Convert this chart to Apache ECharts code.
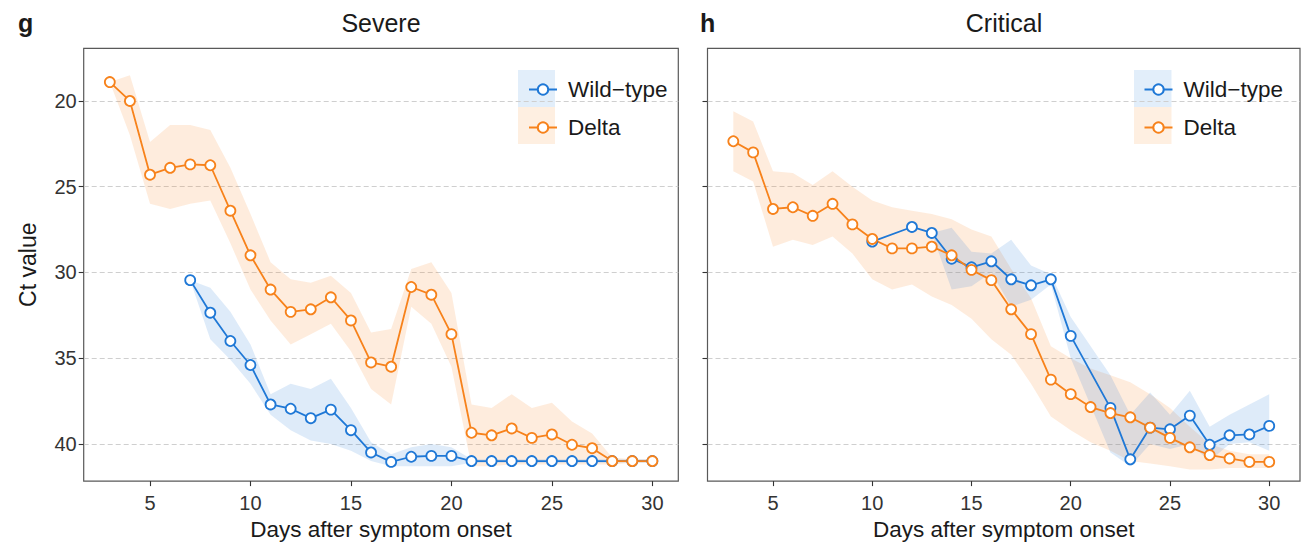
<!DOCTYPE html>
<html>
<head>
<meta charset="utf-8">
<script src="https://cdn.jsdelivr.net/npm/echarts@6/dist/echarts.min.js"></script>
<style>
html,body{margin:0;padding:0;background:#fff;}
#chart{width:1309px;height:546px;}
</style>
</head>
<body>
<div id="chart"></div>
<script>
// ---------- DATA ----------
const yTicks = [20, 25, 30, 35, 40];
const xTicks = [5, 10, 15, 20, 25, 30];

// Severe panel (g)
const severeDeltaDays = [3,4,5,6,7,8,9,10,11,12,13,14,15,16,17,18,19,20,21,22,23,24,25,26,27,28,29,30];
const severeDelta     = [18.9,20.0,24.3,23.9,23.7,23.75,26.4,29.0,31.0,32.3,32.15,31.45,32.8,35.25,35.5,30.85,31.3,33.6,39.35,39.5,39.1,39.65,39.45,40.05,40.25,41.0,41.0,41.0];
const severeDeltaLo   = [18.9,18.5,22.4,21.4,21.4,21.7,23.9,26.6,29.4,30.4,30.6,30.2,31.2,33.5,33.3,29.8,29.4,31.2,37.7,37.9,37.1,37.9,37.6,38.7,39.4,40.8,40.9,40.9];
const severeDeltaHi   = [18.9,22.0,26.0,26.3,26.0,25.8,28.3,31.0,32.8,34.2,33.6,33.0,34.6,36.8,37.7,32.0,33.0,35.5,41.3,41.3,41.2,41.2,41.2,41.2,41.2,41.2,41.1,41.1];

const severeWildDays = [7,8,9,10,11,12,13,14,15,16,17,18,19,20,21,22,23,24,25,26,27,28,29,30];
const severeWild     = [30.45,32.35,34.0,35.4,37.7,37.95,38.5,38.0,39.2,40.5,41.05,40.75,40.7,40.7,41.0,41.0,41.0,41.0,41.0,41.0,41.0,41.0,41.0,41.0];
const severeWildLo   = [30.45,30.9,32.3,34.2,37.1,36.5,36.8,36.2,37.9,39.9,40.6,40.2,40.0,40.2,40.9,40.9,40.9,40.9,40.9,40.9,40.9,40.9,40.9,40.9];
const severeWildHi   = [30.45,33.9,35.1,36.5,38.3,39.2,39.8,40.0,40.4,41.0,41.3,41.3,41.3,41.3,41.1,41.1,41.1,41.1,41.1,41.1,41.1,41.1,41.1,41.1];

// Critical panel (h)
const criticalDeltaDays = [3,4,5,6,7,8,9,10,11,12,13,14,15,16,17,18,19,20,21,22,23,24,25,26,27,28,29,30];
const criticalDelta     = [22.35,23.0,26.3,26.2,26.7,26.0,27.2,28.05,28.6,28.6,28.5,29.0,29.85,30.45,32.15,33.6,36.25,37.1,37.85,38.2,38.45,39.05,39.65,40.2,40.65,40.85,41.05,41.05];
const criticalDeltaLo   = [20.6,21.2,24.1,24.2,24.9,24.1,25.0,25.8,26.2,26.4,26.6,26.9,27.5,27.9,29.8,31.5,34.3,35.0,35.6,36.0,36.4,37.1,37.9,39.0,40.0,40.4,40.6,40.6];
const criticalDeltaHi   = [24.1,24.7,28.5,28.1,28.4,27.9,28.9,30.4,31.0,30.7,31.4,31.9,32.7,33.9,34.8,36.5,38.4,39.2,39.9,40.4,41.0,41.15,41.3,41.5,41.5,41.4,41.4,41.4];

const criticalWildDays = [10,11,12,13,14,15,16,17,18,19,20,21,22,23,24,25,26,27,28,29,30];
const criticalWild     = [28.2,null,27.35,27.7,29.2,29.7,29.35,30.4,30.75,30.4,33.7,null,37.9,40.9,39.05,39.15,38.35,40.05,39.5,39.45,38.95];
const criticalWildLo   = [28.2,null,27.35,27.7,27.4,28.8,28.9,28.1,29.6,30.1,32.6,null,36.0,38.3,37.0,38.3,36.9,39.0,38.3,37.7,37.1];
const criticalWildHi   = [28.2,null,27.35,27.7,31.0,30.8,30.0,32.0,31.6,30.7,35.0,null,40.5,41.3,40.0,40.3,40.0,41.0,40.0,39.9,40.4];

// ---------- STYLE ----------
const BLUE = '#1f78d6';
const ORANGE = '#f7821b';
const TXT = '#1a1a1a';
const FONT = '"Liberation Sans", Arial, Helvetica, sans-serif';

function pairs(days, vals) { return days.map((d, i) => [d, vals[i]]); }

function bandSeries(name, days, lo, hi, color, idx) {
  return {
    type: 'custom', name: name, xAxisIndex: idx, yAxisIndex: idx,
    data: days.map((d, i) => [d, lo[i], hi[i]]),
    encode: { x: 0, y: [1, 2] },
    silent: true, z: 1,
    renderItem: function (params, api) {
      if (params.dataIndex !== 0) return;
      const pts = [];
      for (let i = 0; i < days.length; i++) if (lo[i] != null) pts.push(api.coord([days[i], lo[i]]));
      for (let i = days.length - 1; i >= 0; i--) if (hi[i] != null) pts.push(api.coord([days[i], hi[i]]));
      return { type: 'polygon', shape: { points: pts }, style: { fill: color, opacity: 0.15 } };
    }
  };
}

function lineSeries(name, days, vals, color, idx) {
  return {
    type: 'line', name: name, xAxisIndex: idx, yAxisIndex: idx,
    data: pairs(days, vals), connectNulls: true,
    symbol: 'circle', symbolSize: 10, showSymbol: true,
    lineStyle: { color: color, width: 1.8 },
    itemStyle: { color: '#fff', borderColor: color, borderWidth: 1.8 },
    emphasis: { disabled: true }, z: 3, animation: false
  };
}

function xAxis(idx, max) {
  return {
    type: 'value', gridIndex: idx, min: 1.70, max: max,
    axisLine: { show: false },
    axisTick: { show: true, customValues: xTicks, length: 5, lineStyle: { color: '#333', width: 1.1 } },
    axisLabel: { show: true, customValues: xTicks, fontSize: 20, color: '#333', fontFamily: FONT, margin: 12 },
    splitLine: { show: false },
    name: 'Days after symptom onset', nameLocation: 'middle', nameGap: 36,
    nameTextStyle: { fontSize: 22.5, color: TXT, fontFamily: FONT }
  };
}

function yAxis(idx, showLabel) {
  return {
    type: 'value', gridIndex: idx, inverse: true, min: 16.93, max: 42.17,
    axisLine: { show: false },
    axisTick: { show: true, customValues: yTicks, length: 5, lineStyle: { color: '#333', width: 1.1 } },
    axisLabel: { show: showLabel, customValues: yTicks, fontSize: 20, color: '#333', fontFamily: FONT, margin: 7 },
    splitLine: { show: true, lineStyle: { color: '#cfcfcf', type: [5, 3], width: 1 } },
    name: showLabel ? 'Ct value' : '', nameLocation: 'middle', nameGap: 44,
    nameTextStyle: { fontSize: 23, color: TXT, fontFamily: FONT }
  };
}

function legend(left) {
  return {
    orient: 'vertical', left: left, top: 73,
    data: ['Wild\u2212type', 'Delta'],
    itemWidth: 28, itemHeight: 13, itemGap: 15,
    textStyle: { fontSize: 22.5, color: TXT, fontFamily: FONT, lineHeight: 22, padding: [0, 0, 0, 6] },
    selectedMode: false
  };
}

const WT = 'Wild\u2212type';

const chart = echarts.init(document.getElementById('chart'), null, { renderer: 'svg' });
chart.setOption({
  animation: false,
  backgroundColor: '#fff',
  grid: [
    { left: 83.7, top: 48.3, width: 594.6, height: 438.7, show: true, borderColor: '#595959', borderWidth: 1.2, backgroundColor: 'transparent' },
    { left: 707.5, top: 48.3, width: 592.5, height: 438.7, show: true, borderColor: '#595959', borderWidth: 1.2, backgroundColor: 'transparent' }
  ],
  xAxis: [xAxis(0, 31.29), xAxis(1, 31.55)],
  yAxis: [yAxis(0, true), yAxis(1, false)],
  legend: [legend(523), legend(1138.5)],
  graphic: [
    { type: 'rect', left: 518, top: 70, shape: { width: 37, height: 37 }, style: { fill: 'rgba(31,120,214,0.13)' }, z: -1, silent: true },
    { type: 'rect', left: 518, top: 107, shape: { width: 37, height: 37 }, style: { fill: 'rgba(247,130,27,0.13)' }, z: -1, silent: true },
    { type: 'rect', left: 1134, top: 70, shape: { width: 37.5, height: 37 }, style: { fill: 'rgba(31,120,214,0.13)' }, z: -1, silent: true },
    { type: 'rect', left: 1134, top: 107, shape: { width: 37.5, height: 37 }, style: { fill: 'rgba(247,130,27,0.13)' }, z: -1, silent: true },
    { type: 'text', x: 381, y: 23, style: { text: 'Severe', fontSize: 25, fill: TXT, fontFamily: FONT, align: 'center', verticalAlign: 'middle' } },
    { type: 'text', x: 1004, y: 23, style: { text: 'Critical', fontSize: 25, fill: TXT, fontFamily: FONT, align: 'center', verticalAlign: 'middle' } },
    { type: 'text', x: 18, y: 23, style: { text: 'g', fontSize: 25, fontWeight: 'bold', fill: TXT, fontFamily: FONT, align: 'left', verticalAlign: 'middle' } },
    { type: 'text', x: 700, y: 23, style: { text: 'h', fontSize: 25, fontWeight: 'bold', fill: TXT, fontFamily: FONT, align: 'left', verticalAlign: 'middle' } }
  ],
  series: [
    lineSeries(WT, severeWildDays, severeWild, BLUE, 0),
    lineSeries('Delta', severeDeltaDays, severeDelta, ORANGE, 0),
    lineSeries(WT, criticalWildDays, criticalWild, BLUE, 1),
    lineSeries('Delta', criticalDeltaDays, criticalDelta, ORANGE, 1),
    bandSeries('band-delta-severe', severeDeltaDays, severeDeltaLo, severeDeltaHi, ORANGE, 0),
    bandSeries('band-wild-severe', severeWildDays, severeWildLo, severeWildHi, BLUE, 0),
    bandSeries('band-delta-critical', criticalDeltaDays, criticalDeltaLo, criticalDeltaHi, ORANGE, 1),
    bandSeries('band-wild-critical', criticalWildDays, criticalWildLo, criticalWildHi, BLUE, 1)
  ]
});
</script>
</body>
</html>
